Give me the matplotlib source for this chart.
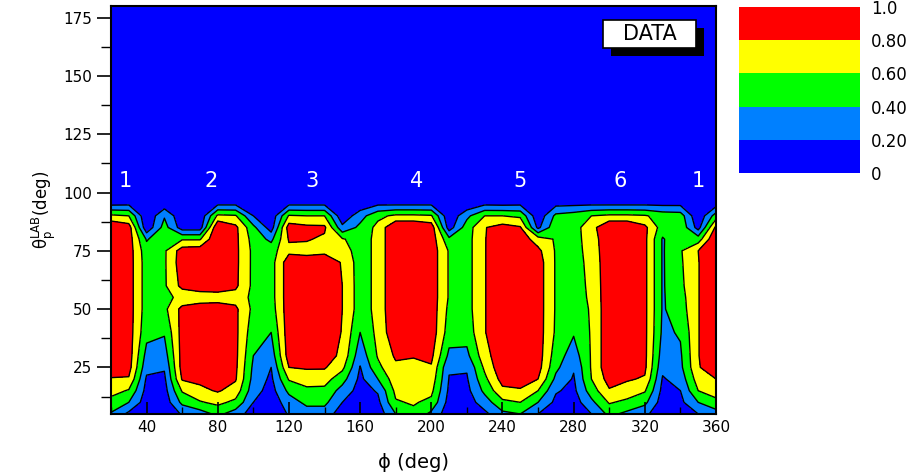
import numpy as np
import matplotlib
matplotlib.use("Agg")
import matplotlib.pyplot as plt
from matplotlib.patches import Rectangle
from matplotlib.ticker import MultipleLocator

# Azimuthal angle grid (deg) and polar angle grid (deg)
phi = list(range(20, 361, 10))
theta = [5, 10, 15, 20, 25, 30, 40, 50, 55, 60, 70, 75, 80, 85, 90, 95, 100, 180]

# Acceptance values, one list per phi column (ordered like theta)
acc_phi020 = [0.38, 0.52, 0.68, 0.78, 0.95, 1.00, 1.00, 1.00, 1.00, 1.00, 1.00, 1.00, 1.00, 1.00, 0.64, 0.16, 0, 0]
acc_phi030 = [0.15, 0.40, 0.58, 0.78, 0.88, 0.90, 0.90, 0.90, 0.90, 0.90, 0.90, 0.90, 0.90, 0.90, 0.60, 0.17, 0, 0]
acc_phi040 = [0.05, 0.09, 0.13, 0.17, 0.26, 0.33, 0.46, 0.50, 0.50, 0.50, 0.50, 0.48, 0.38, 0.05, 0.02, 0.00, 0, 0]
acc_phi050 = [0.04, 0.08, 0.12, 0.16, 0.22, 0.30, 0.42, 0.55, 0.55, 0.57, 0.57, 0.57, 0.55, 0.48, 0.38, 0.08, 0, 0]
acc_phi060 = [0.22, 0.45, 0.62, 0.82, 0.88, 0.88, 0.88, 0.86, 0.65, 0.86, 0.92, 0.90, 0.58, 0.10, 0.04, 0.00, 0, 0]
acc_phi070 = [0.30, 0.58, 0.75, 0.85, 0.90, 0.92, 0.95, 0.92, 0.68, 0.92, 0.95, 0.92, 0.58, 0.10, 0.04, 0.00, 0, 0]
acc_phi080 = [0.45, 0.65, 0.82, 0.90, 0.95, 0.95, 0.95, 0.92, 0.70, 0.92, 0.95, 0.95, 1.00, 1.00, 0.64, 0.17, 0, 0]
acc_phi090 = [0.30, 0.55, 0.72, 0.82, 0.84, 0.85, 0.85, 0.84, 0.72, 0.84, 0.85, 0.85, 0.85, 0.85, 0.62, 0.17, 0, 0]
acc_phi100 = [0.10, 0.20, 0.28, 0.33, 0.36, 0.40, 0.48, 0.55, 0.55, 0.55, 0.55, 0.55, 0.52, 0.45, 0.20, 0.05, 0, 0]
acc_phi110 = [0.05, 0.08, 0.12, 0.16, 0.20, 0.28, 0.40, 0.50, 0.52, 0.52, 0.52, 0.52, 0.35, 0.10, 0.05, 0.00, 0, 0]
acc_phi120 = [0.22, 0.30, 0.45, 0.62, 0.80, 0.90, 0.92, 0.92, 0.92, 0.92, 0.92, 0.75, 0.82, 0.90, 0.62, 0.17, 0, 0]
acc_phi130 = [0.30, 0.45, 0.55, 0.70, 0.82, 0.90, 0.92, 0.92, 0.92, 0.92, 0.92, 0.72, 0.82, 0.85, 0.60, 0.17, 0, 0]
acc_phi140 = [0.30, 0.45, 0.55, 0.68, 0.82, 0.90, 0.92, 0.92, 0.92, 0.92, 0.95, 0.74, 0.76, 0.84, 0.60, 0.17, 0, 0]
acc_phi150 = [0.10, 0.20, 0.32, 0.48, 0.65, 0.75, 0.79, 0.80, 0.80, 0.80, 0.78, 0.70, 0.62, 0.25, 0.05, 0.00, 0, 0]
acc_phi160 = [0.05, 0.08, 0.12, 0.15, 0.19, 0.27, 0.40, 0.50, 0.50, 0.50, 0.50, 0.50, 0.50, 0.45, 0.32, 0.06, 0, 0]
acc_phi170 = [0.08, 0.15, 0.22, 0.40, 0.55, 0.62, 0.66, 0.66, 0.66, 0.66, 0.66, 0.66, 0.66, 0.66, 0.55, 0.17, 0, 0]
acc_phi180 = [0.40, 0.58, 0.65, 0.72, 0.76, 0.83, 0.95, 1.00, 1.00, 1.00, 1.00, 1.00, 1.00, 1.00, 0.64, 0.17, 0, 0]
acc_phi190 = [0.55, 0.62, 0.68, 0.72, 0.76, 0.81, 0.95, 1.00, 1.00, 1.00, 1.00, 1.00, 1.00, 1.00, 0.64, 0.17, 0, 0]
acc_phi200 = [0.35, 0.55, 0.65, 0.72, 0.78, 0.85, 0.92, 0.92, 0.92, 0.92, 0.92, 0.92, 0.92, 0.92, 0.62, 0.17, 0, 0]
acc_phi210 = [0.08, 0.12, 0.16, 0.19, 0.22, 0.35, 0.50, 0.55, 0.58, 0.58, 0.58, 0.58, 0.45, 0.10, 0.04, 0.00, 0, 0]
acc_phi220 = [0.06, 0.10, 0.14, 0.18, 0.22, 0.35, 0.48, 0.52, 0.52, 0.52, 0.52, 0.52, 0.52, 0.50, 0.35, 0.05, 0, 0]
acc_phi230 = [0.15, 0.30, 0.45, 0.55, 0.64, 0.72, 0.79, 0.79, 0.79, 0.79, 0.79, 0.79, 0.79, 0.79, 0.60, 0.17, 0, 0]
acc_phi240 = [0.35, 0.55, 0.75, 0.88, 0.95, 0.95, 0.95, 0.95, 0.95, 0.95, 0.95, 0.95, 0.94, 0.88, 0.60, 0.16, 0, 0]
acc_phi250 = [0.40, 0.60, 0.78, 0.88, 0.95, 0.95, 0.95, 0.95, 0.95, 0.95, 0.95, 0.95, 0.92, 0.82, 0.56, 0.17, 0, 0]
acc_phi260 = [0.20, 0.40, 0.60, 0.80, 0.88, 0.90, 0.90, 0.90, 0.90, 0.90, 0.90, 0.85, 0.70, 0.15, 0.05, 0.00, 0, 0]
acc_phi270 = [0.10, 0.15, 0.22, 0.35, 0.45, 0.50, 0.57, 0.58, 0.58, 0.58, 0.58, 0.58, 0.58, 0.55, 0.45, 0.15, 0, 0]
acc_phi280 = [0.05, 0.10, 0.15, 0.18, 0.22, 0.30, 0.42, 0.50, 0.52, 0.52, 0.52, 0.52, 0.52, 0.52, 0.50, 0.16, 0, 0]
acc_phi290 = [0.20, 0.35, 0.50, 0.60, 0.62, 0.62, 0.62, 0.62, 0.63, 0.64, 0.66, 0.68, 0.70, 0.72, 0.60, 0.17, 0, 0]
acc_phi300 = [0.45, 0.62, 0.78, 0.88, 0.95, 0.95, 0.95, 0.95, 0.95, 0.95, 0.95, 0.95, 0.95, 1.00, 0.64, 0.17, 0, 0]
acc_phi310 = [0.35, 0.55, 0.72, 0.82, 0.90, 0.95, 0.95, 0.95, 0.95, 0.95, 0.95, 0.95, 0.95, 1.00, 0.64, 0.17, 0, 0]
acc_phi320 = [0.25, 0.45, 0.62, 0.78, 0.84, 0.85, 0.85, 0.85, 0.85, 0.85, 0.85, 0.85, 0.85, 0.85, 0.62, 0.17, 0, 0]
acc_phi330 = [0.05, 0.10, 0.14, 0.18, 0.25, 0.30, 0.36, 0.38, 0.38, 0.38, 0.38, 0.38, 0.38, 0.50, 0.52, 0.16, 0, 0]
acc_phi340 = [0.10, 0.15, 0.20, 0.28, 0.35, 0.37, 0.42, 0.50, 0.52, 0.55, 0.57, 0.58, 0.56, 0.55, 0.50, 0.16, 0, 0]
acc_phi350 = [0.20, 0.40, 0.60, 0.70, 0.78, 0.79, 0.79, 0.79, 0.79, 0.79, 0.79, 0.80, 0.50, 0.12, 0.03, 0.00, 0, 0]
acc_phi360 = [0.30, 0.55, 0.68, 0.80, 0.95, 1.00, 1.00, 1.00, 1.00, 1.00, 1.00, 1.00, 1.00, 0.85, 0.50, 0.12, 0, 0]

columns = [
    acc_phi020, acc_phi030, acc_phi040, acc_phi050, acc_phi060, acc_phi070,
    acc_phi080, acc_phi090, acc_phi100, acc_phi110, acc_phi120, acc_phi130,
    acc_phi140, acc_phi150, acc_phi160, acc_phi170, acc_phi180, acc_phi190,
    acc_phi200, acc_phi210, acc_phi220, acc_phi230, acc_phi240, acc_phi250,
    acc_phi260, acc_phi270, acc_phi280, acc_phi290, acc_phi300, acc_phi310,
    acc_phi320, acc_phi330, acc_phi340, acc_phi350, acc_phi360,
]

levels = [0.0, 0.2, 0.4, 0.6, 0.8, 1.0]
level_labels = ["0", "0.20", "0.40", "0.60", "0.80", "1.0"]
band_colors = ["#0000ff", "#0080ff", "#00ff00", "#ffff00", "#ff0000"]

sector_names = ["1", "2", "3", "4", "5", "6", "1"]
sector_phi = [28, 76, 133, 192, 250, 306, 350]
sector_theta = 105

W, H = 912, 475
fig = plt.figure(figsize=(W / 100, H / 100), dpi=100)
fig.patch.set_facecolor("white")

ax = fig.add_axes([111 / W, (H - 414) / H, 605 / W, 408 / H])
z = np.array(columns).T
cs = ax.contourf(phi, theta, z, levels=levels, colors=band_colors)
ax.contour(phi, theta, z, levels=levels[1:-1], colors="black", linewidths=1.0)

ax.set_xlim(20, 360)
ax.set_ylim(5, 180)
ax.set_xticks(range(40, 361, 40))
ax.xaxis.set_minor_locator(MultipleLocator(20))
ax.set_yticks(range(25, 176, 25))
ax.yaxis.set_minor_locator(MultipleLocator(12.5))
ax.tick_params(axis="x", which="both", direction="in", top=False, labelsize=11, pad=4)
ax.tick_params(axis="x", which="major", length=9, width=1.2)
ax.tick_params(axis="x", which="minor", length=5, width=1.0)
ax.tick_params(axis="y", which="both", direction="out", right=False, labelsize=11)
ax.tick_params(axis="y", which="major", length=10, width=1.2)
ax.tick_params(axis="y", which="minor", length=7, width=1.0)
for sp in ax.spines.values():
    sp.set_linewidth(1.5)

ax.set_xlabel("ϕ (deg)", fontsize=14, labelpad=13)
ax.set_ylabel(r"$\mathrm{θ}_{\mathrm{p}}^{\mathrm{LAB}}$(deg)", fontsize=12, labelpad=4)

for name, p in zip(sector_names, sector_phi):
    ax.text(p, sector_theta, name, color="white", fontsize=15,
            ha="center", va="center")

# "DATA" tag with a drop shadow, placed in figure pixels
fig.patches.append(Rectangle((611 / W, (H - 56) / H), 93 / W, 28 / H,
                             transform=fig.transFigure, facecolor="black",
                             edgecolor="none", zorder=5))
fig.patches.append(Rectangle((603 / W, (H - 48) / H), 93 / W, 28 / H,
                             transform=fig.transFigure, facecolor="white",
                             edgecolor="black", linewidth=1.2, zorder=6))
fig.text(649.5 / W, (H - 34) / H, "DATA", fontsize=15, ha="center",
         va="center", zorder=7)

cax = fig.add_axes([739 / W, (H - 173) / H, 121 / W, 166 / H])
cb = fig.colorbar(cs, cax=cax)
cb.outline.set_visible(False)
cb.set_ticks(levels)
cb.set_ticklabels(level_labels)
cax.tick_params(length=0, labelsize=12, pad=8)

fig.savefig("out.png", dpi=100)
